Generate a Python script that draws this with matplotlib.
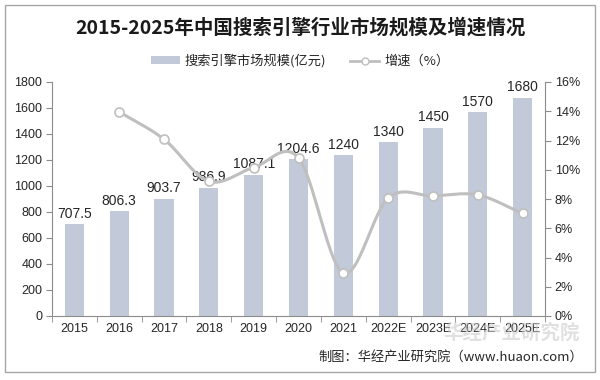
import numpy as np
import matplotlib
matplotlib.use('Agg')
import matplotlib.pyplot as plt
from matplotlib.lines import Line2D
from matplotlib.patches import Patch, Rectangle

plt.rcParams['font.family'] = ['Noto Sans CJK SC', 'DejaVu Sans']

years = ['2015', '2016', '2017', '2018', '2019', '2020', '2021',
         '2022E', '2023E', '2024E', '2025E']
scale = [707.5, 806.3, 903.7, 986.9, 1087.1, 1204.6, 1240,
         1340, 1450, 1570, 1680]
scale_labels = ['707.5', '806.3', '903.7', '986.9', '1087.1', '1204.6', '1240',
                '1340', '1450', '1570', '1680']
growth = [None, 13.96, 12.08, 9.21, 10.15, 10.81, 2.94, 8.06, 8.21, 8.28, 7.01]

bar_color = '#c2cad9'
line_color = '#bfbfbf'
axis_color = '#8c8c8c'
text_color = '#262626'
num_font = 'Liberation Sans'


def catmull(xs, ys, n=30):
    # smooth curve through the points, like Excel's smoothed line
    xs = np.asarray(xs, float)
    ys = np.asarray(ys, float)
    px = np.concatenate([[2 * xs[0] - xs[1]], xs, [2 * xs[-1] - xs[-2]]])
    py = np.concatenate([[2 * ys[0] - ys[1]], ys, [2 * ys[-1] - ys[-2]]])
    ox, oy = [], []
    t = np.linspace(0, 1, n)
    for i in range(1, len(px) - 2):
        for p, o in ((px, ox), (py, oy)):
            p0, p1, p2, p3 = p[i - 1], p[i], p[i + 1], p[i + 2]
            o.extend(0.5 * ((2 * p1) + (-p0 + p2) * t
                            + (2 * p0 - 5 * p1 + 4 * p2 - p3) * t ** 2
                            + (-p0 + 3 * p1 - 3 * p2 + p3) * t ** 3))
    return np.array(ox), np.array(oy)


fig = plt.figure(figsize=(6, 3.8), dpi=100)
fig.patches.append(Rectangle((5 / 600, 8 / 380), 590 / 600, 367 / 380,
                             transform=fig.transFigure, fill=False,
                             edgecolor='#a6a6a6', linewidth=1))

ax = fig.add_axes([52 / 600, 1 - 316 / 380, 493 / 600, 234 / 380])
x = np.arange(len(years))
ax.bar(x, scale, width=0.43, color=bar_color, zorder=2)
for xi, v, lab in zip(x, scale, scale_labels):
    ax.text(xi, v + 25, lab, ha='center', va='bottom', fontsize=10,
            color=text_color, family=num_font, zorder=5)

ax.set_xlim(-0.5, len(years) - 0.5)
ax.set_ylim(0, 1800)
ax.set_yticks(np.arange(0, 1801, 200))
ax.set_xticks(x)
ax.set_xticklabels(years)
ax.set_xticks(np.arange(-0.5, len(years), 1), minor=True)
ax.tick_params(axis='x', which='major', length=0, pad=5)
ax.tick_params(axis='x', which='minor', length=4, color=axis_color)
ax.tick_params(axis='y', length=4, color=axis_color, pad=3)
for lab in ax.get_xticklabels() + ax.get_yticklabels():
    lab.set_fontsize(9)
    lab.set_color(text_color)
    lab.set_family(num_font)
for s in ['top', 'right']:
    ax.spines[s].set_visible(False)
for s in ['left', 'bottom']:
    ax.spines[s].set_color(axis_color)

ax2 = ax.twinx()
gx = [xi for xi, g in zip(x, growth) if g is not None]
gy = [g for g in growth if g is not None]
sx, sy = catmull(gx, gy)
ax2.plot(sx, sy, color=line_color, linewidth=2.2, zorder=3)
ax2.plot(gx, gy, linestyle='none', marker='o', markersize=6.5,
         markerfacecolor='white', markeredgecolor=line_color,
         markeredgewidth=1.2, zorder=4)
ax2.set_ylim(0, 16)
ax2.set_yticks(np.arange(0, 17, 2))
ax2.set_yticklabels([f'{v}%' for v in range(0, 17, 2)])
ax2.tick_params(axis='y', length=4, color=axis_color, pad=3)
for lab in ax2.get_yticklabels():
    lab.set_fontsize(9)
    lab.set_color(text_color)
    lab.set_family(num_font)
for s in ['top', 'left', 'bottom']:
    ax2.spines[s].set_visible(False)
ax2.spines['right'].set_color(axis_color)

fig.text(0.5, 1 - 28 / 380, '2015-2025年中国搜索引擎行业市场规模及增速情况',
         ha='center', va='center', fontsize=14, fontweight='bold',
         color='#1a1a1a')

handles = [Patch(facecolor=bar_color, edgecolor='none'),
           Line2D([], [], color=line_color, linewidth=2, marker='o',
                  markersize=5, markerfacecolor='white',
                  markeredgecolor=line_color)]
fig.legend(handles, ['搜索引擎市场规模(亿元)', '增速（%）'],
           loc='center', bbox_to_anchor=(0.5, 1 - 61 / 380), ncol=2,
           frameon=False, fontsize=9.5, handlelength=2.2, handleheight=0.5,
           columnspacing=1.8, handletextpad=0.4, labelcolor=text_color)

fig.text(0.967, 1 - 333 / 380, '华经产业研究院', ha='right', va='center',
         fontsize=14, fontweight='bold', color='#c8c8c8', alpha=0.55, zorder=0)
fig.text(0.972, 1 - 357 / 380, '制图：华经产业研究院（www.huaon.com）',
         ha='right', va='center', fontsize=9.5, color=text_color)

fig.savefig('out.png', dpi=100)
